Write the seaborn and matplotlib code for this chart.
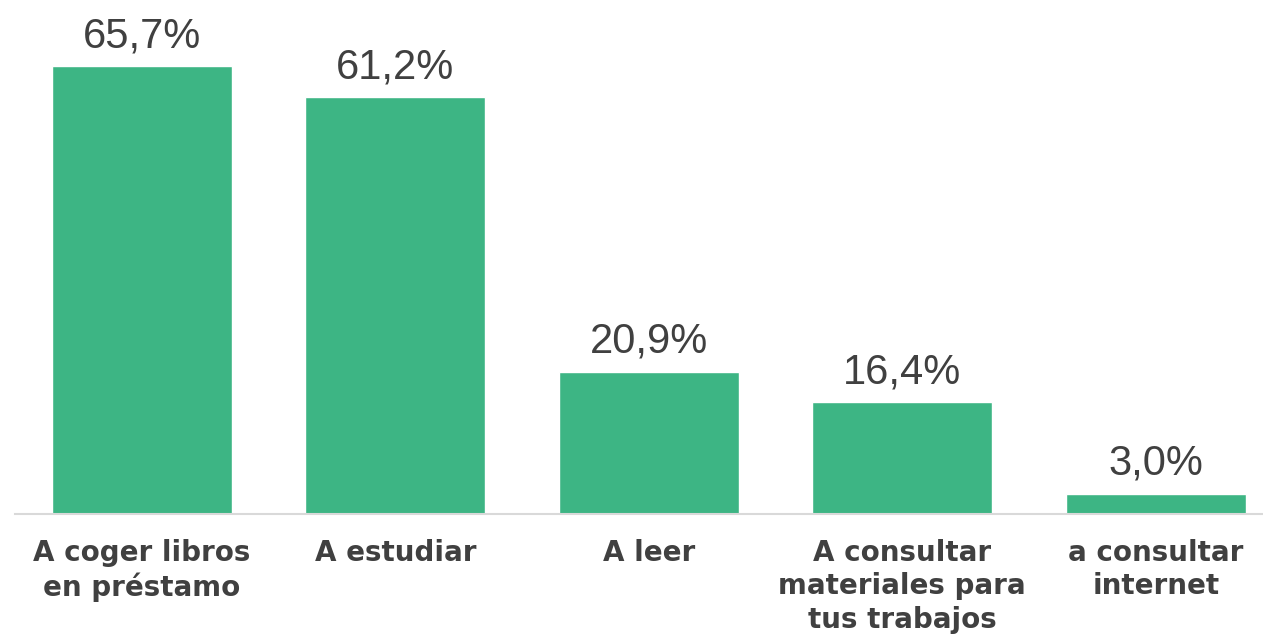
import matplotlib
matplotlib.use("Agg")
import matplotlib.pyplot as plt
import seaborn as sns
import pandas as pd

# ============ Data ============
categories = [
    "A coger libros\nen préstamo",
    "A estudiar",
    "A leer",
    "A consultar\nmateriales para\ntus trabajos",
    "a consultar\ninternet",
]
values = [65.7, 61.2, 20.9, 16.4, 3.0]
value_labels = ["65,7%", "61,2%", "20,9%", "16,4%", "3,0%"]

BAR_COLOR = "#3DB584"
TEXT_COLOR = "#404040"

# ============ Plot ============
sns.set_theme(style="white")
plt.rcParams["font.family"] = ["DejaVu Sans"]

df = pd.DataFrame({"cat": categories, "val": values})

fig = plt.figure(figsize=(12.63, 6.36), dpi=100)
ax = fig.add_axes([15 / 1263, 122 / 636, 1248 / 1263, 514 / 636])

sns.barplot(data=df, x="cat", y="val", color=BAR_COLOR, width=0.71,
            saturation=1, ax=ax)

for i, (v, lab) in enumerate(zip(values, value_labels)):
    ax.annotate(lab, (i, v), xytext=(0, 7), textcoords="offset points",
                ha="center", va="bottom", fontsize=30, color=TEXT_COLOR,
                family="Liberation Sans")

ax.set_xlim(-0.5, 4.423)
ax.set_ylim(0, 75.4)
ax.set_xlabel("")
ax.set_ylabel("")
ax.set_yticks([])
for s in ["top", "right", "left"]:
    ax.spines[s].set_visible(False)
ax.spines["bottom"].set_color("#D9D9D9")
ax.spines["bottom"].set_linewidth(1.5)
ax.tick_params(axis="x", length=0, pad=18)
for t in ax.get_xticklabels():
    t.set_fontsize(20)
    t.set_fontweight("bold")
    t.set_color(TEXT_COLOR)
    t.set_linespacing(1.25)

fig.savefig("out.png", dpi=100)
